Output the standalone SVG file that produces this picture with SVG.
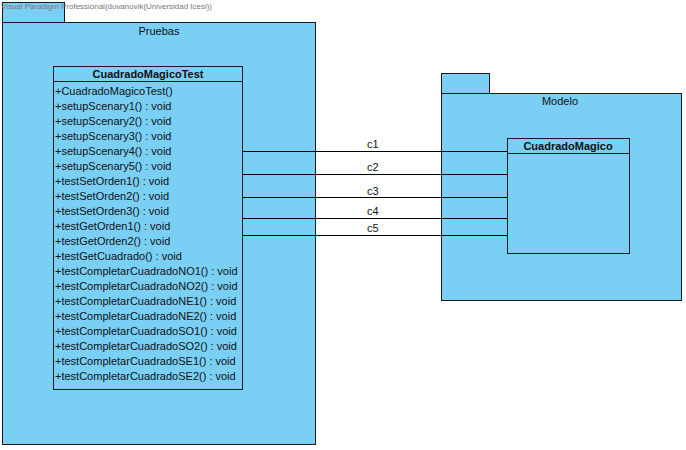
<svg xmlns="http://www.w3.org/2000/svg" width="686" height="450" viewBox="0 0 686 450">
<style>
.pkg{fill:#7ACFF5;stroke:#1a1a1a;stroke-width:1}
.cls{fill:#7ACFF5;stroke:#1a1a1a;stroke-width:1}
.t{font-family:"Liberation Sans",Arial,sans-serif;font-size:11px;fill:#111}
.b{font-weight:bold;text-anchor:middle}
.c{text-anchor:middle}
.conn{stroke:#000;stroke-width:1;fill:none}
</style>
<rect width="686" height="450" fill="#fff"/>
<g id="pkg-pruebas">
<rect class="pkg" x="2.5" y="2.5" width="62" height="20"/>
<rect class="pkg" x="2.5" y="22.5" width="313" height="422"/>
<text class="t c" x="159" y="35">Pruebas</text>
</g>
<g id="pkg-modelo">
<rect class="pkg" x="441.5" y="73.5" width="48" height="20"/>
<rect class="pkg" x="441.5" y="93.5" width="240" height="207"/>
<text class="t c" x="560" y="105">Modelo</text>
</g>
<text x="1" y="9" font-family="Liberation Sans,Arial,sans-serif" font-size="8" fill="#777" textLength="211" lengthAdjust="spacingAndGlyphs">Visual Paradigm Professional(duvanovik(Universidad Icesi))</text>
<g id="class-test">
<rect class="cls" x="53.5" y="66.5" width="189" height="323"/>
<line x1="53.5" y1="81.5" x2="242.5" y2="81.5" stroke="#1a1a1a"/>
<text class="t b" x="148" y="78">CuadradoMagicoTest</text>
<g class="t">
<text x="55" y="95">+CuadradoMagicoTest()</text>
<text x="55" y="110">+setupScenary1() : void</text>
<text x="55" y="125">+setupScenary2() : void</text>
<text x="55" y="140">+setupScenary3() : void</text>
<text x="55" y="155">+setupScenary4() : void</text>
<text x="55" y="170">+setupScenary5() : void</text>
<text x="55" y="185">+testSetOrden1() : void</text>
<text x="55" y="200">+testSetOrden2() : void</text>
<text x="55" y="215">+testSetOrden3() : void</text>
<text x="55" y="230">+testGetOrden1() : void</text>
<text x="55" y="245">+testGetOrden2() : void</text>
<text x="55" y="260">+testGetCuadrado() : void</text>
<text x="55" y="275">+testCompletarCuadradoNO1() : void</text>
<text x="55" y="290">+testCompletarCuadradoNO2() : void</text>
<text x="55" y="305">+testCompletarCuadradoNE1() : void</text>
<text x="55" y="320">+testCompletarCuadradoNE2() : void</text>
<text x="55" y="335">+testCompletarCuadradoSO1() : void</text>
<text x="55" y="350">+testCompletarCuadradoSO2() : void</text>
<text x="55" y="365">+testCompletarCuadradoSE1() : void</text>
<text x="55" y="380">+testCompletarCuadradoSE2() : void</text>
</g>
</g>
<g id="class-cuadrado">
<rect class="cls" x="507.5" y="138.5" width="122" height="115"/>
<line x1="507.5" y1="153.5" x2="629.5" y2="153.5" stroke="#1a1a1a"/>
<text class="t b" x="568" y="150">CuadradoMagico</text>
</g>
<g id="connectors">
<line class="conn" x1="243" y1="151.5" x2="507" y2="151.5"/>
<line class="conn" x1="243" y1="174.5" x2="507" y2="174.5"/>
<line class="conn" x1="243" y1="197.5" x2="507" y2="197.5"/>
<line class="conn" x1="243" y1="218.5" x2="507" y2="218.5"/>
<line class="conn" x1="243" y1="235.5" x2="507" y2="235.5"/>
<g class="t">
<text x="367" y="148">c1</text>
<text x="367" y="171">c2</text>
<text x="367" y="195">c3</text>
<text x="367" y="215">c4</text>
<text x="367" y="232">c5</text>
</g>
</g>
</svg>
